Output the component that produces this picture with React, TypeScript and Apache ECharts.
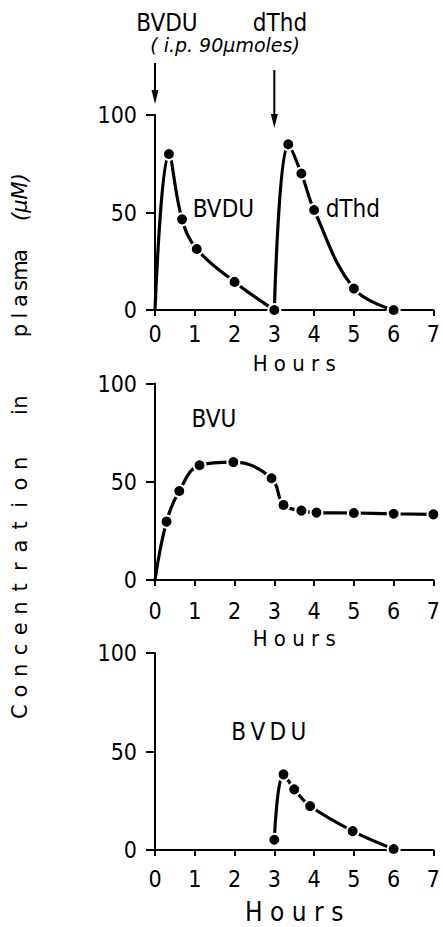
import React, { useEffect, useRef } from "react";
import * as echarts from "echarts";

// Sampling times (hours) and plasma concentrations (µM)
const hourTicks = [0, 1, 2, 3, 4, 5, 6, 7];
const concTicks = [0, 50, 100];

// Panel 1: BVDU injected at 0 h, dThd injected at 3 h
const bvduTimes = [0, 0.35, 0.68, 1.05, 2, 3];
const bvduConc = [0, 80, 46.5, 31.3, 14.4, 0];
const dthdTimes = [3, 3.35, 3.68, 4, 5, 6];
const dthdConc = [0, 85, 70, 51.3, 11, 0];

// Panel 2: BVU
const bvuTimes = [0, 0.29, 0.61, 1.12, 1.97, 2.93, 3.23, 3.68, 4.06, 5, 6, 7];
const bvuConc = [0, 29.7, 45.3, 58.4, 60, 51.8, 38.2, 35.3, 34.3, 34.1, 33.7, 33.4];

// Panel 3: BVDU after dThd
const bvdu2Times = [3, 3.23, 3.5, 3.9, 4.97, 6];
const bvdu2Conc = [5.2, 38.4, 30.8, 22.3, 9.6, 0.5];

const FONT = "'DejaVu Sans Condensed', 'DejaVu Sans', sans-serif";

// curve points; when the curve starts from an unmeasured origin, that point gets no dot
function curve(times: number[], conc: number[], originUnmarked: boolean) {
  return times.map((t, i) =>
    i === 0 && originUnmarked ? { value: [t, conc[i]], symbol: "none" } : { value: [t, conc[i]] }
  );
}

function lineSeries(grid: number, data: any[]) {
  return {
    type: "line",
    xAxisIndex: grid,
    yAxisIndex: grid,
    data,
    smooth: 0.4,
    symbol: "circle",
    symbolSize: 12,
    showAllSymbol: true,
    itemStyle: { color: "#000", borderColor: "#fff", borderWidth: 2 },
    lineStyle: { color: "#000", width: 3.2 },
    emphasis: { disabled: true },
    silent: true,
    z: 3,
  };
}

const grids = [
  { left: 155, top: 115, width: 281, height: 195 },
  { left: 155, top: 383.5, width: 281, height: 196.5 },
  { left: 155, top: 653, width: 281, height: 197 },
];
const labelMargins = [12, 19, 17];
const nameGaps = [42, 47, 49];
const nameSizes = [22, 22, 26];

function xAxis(i: number) {
  return {
    type: "value",
    gridIndex: i,
    min: hourTicks[0],
    max: hourTicks[hourTicks.length - 1],
    interval: 1,
    axisLine: { show: true, onZero: false, lineStyle: { color: "#000", width: 2 } },
    axisTick: { show: true, inside: false, length: 6, lineStyle: { color: "#000", width: 2 } },
    axisLabel: { color: "#000", fontSize: 23, fontFamily: FONT, margin: labelMargins[i] },
    splitLine: { show: false },
    name: "H o u r s",
    nameLocation: "middle",
    nameGap: nameGaps[i],
    nameTextStyle: { color: "#000", fontSize: nameSizes[i], fontFamily: FONT, verticalAlign: "top" },
  };
}

function yAxis(i: number) {
  return {
    type: "value",
    gridIndex: i,
    min: concTicks[0],
    max: concTicks[concTicks.length - 1],
    interval: 50,
    axisLine: { show: true, lineStyle: { color: "#000", width: 2 } },
    axisTick: { show: true, inside: false, length: 9, lineStyle: { color: "#000", width: 2 } },
    axisLabel: { color: "#000", fontSize: 23, fontFamily: FONT, margin: 18 },
    splitLine: { show: false },
  };
}

function txt(x: number, y: number, text: string, font: string, align = "center", rotation = 0) {
  return {
    type: "text",
    x,
    y,
    rotation,
    silent: true,
    z: 10,
    style: {
      text,
      font,
      fill: "#000",
      textAlign: align,
      textVerticalAlign: "middle",
      align,
      verticalAlign: "middle",
    },
  };
}

// spread the letters of a rotated word evenly between two heights
function spacedWord(word: string, x: number, yBottom: number, yTop: number, font: string) {
  const n = word.length;
  const pitch = (yBottom - yTop) / n;
  return word.split("").map((ch, i) => txt(x, yBottom - (i + 0.5) * pitch, ch, font, "center", Math.PI / 2));
}

export default function App() {
  const ref = useRef<HTMLDivElement>(null);

  useEffect(() => {
    document.body.style.margin = "0";
    const chart = echarts.init(ref.current!, null, { renderer: "svg" });
    chart.setOption({
      animation: false,
      backgroundColor: "#fff",
      grid: grids,
      xAxis: [xAxis(0), xAxis(1), xAxis(2)],
      yAxis: [yAxis(0), yAxis(1), yAxis(2)],
      series: [
        lineSeries(0, curve(bvduTimes, bvduConc, true)),
        lineSeries(0, curve(dthdTimes, dthdConc, true)),
        lineSeries(1, curve(bvuTimes, bvuConc, true)),
        lineSeries(2, curve(bvdu2Times, bvdu2Conc, false)),
      ],
    });

    const px = (g: number, x: number, y: number) => chart.convertToPixel({ gridIndex: g }, [x, y]) as number[];
    const big = `24px ${FONT}`;
    const yLabelFont = `21px 'DejaVu Sans', sans-serif`;

    const a0 = px(0, bvduTimes[0], 100);
    const a1 = px(0, dthdTimes[0], 100);
    const arrow = (x: number, y0: number, y1: number) => [
      { type: "line", silent: true, shape: { x1: x, y1: y0, x2: x, y2: y1 - 8 }, style: { stroke: "#000", lineWidth: 2 } },
      {
        type: "polygon",
        silent: true,
        shape: { points: [[x - 3.5, y1 - 14], [x + 3.5, y1 - 14], [x, y1]] },
        style: { fill: "#000" },
      },
    ];

    const lbl1 = px(0, 0.95, 52);
    const lbl2 = px(0, 4.29, 52);
    const lbl3 = px(1, 0.92, 82);
    const lbl4 = px(2, 1.92, 60);

    chart.setOption({
      graphic: [
        txt(167, 23, "BVDU", big),
        txt(280, 23, "dThd", big),
        txt(225, 45, "( i.p. 90µmoles)", `italic 19px 'DejaVu Sans', sans-serif`),
        ...arrow(a0[0], 63, a0[1] - 11),
        ...arrow(a1[0], 70, a1[1] + 13),
        txt(lbl1[0], lbl1[1], "BVDU", big, "left"),
        txt(lbl2[0], lbl2[1], "dThd", big, "left"),
        txt(lbl3[0], lbl3[1], "BVU", big, "left"),
        txt(lbl4[0], lbl4[1], "B\u2009V\u2009D\u2009U", big, "left"),
        ...spacedWord("Concentration", 20, 722, 453, yLabelFont),
        ...spacedWord("in", 20, 417, 397, yLabelFont),
        ...spacedWord("plasma", 20, 338, 248, yLabelFont),
        txt(20, 197, "(µM)", `italic 21px 'DejaVu Sans', sans-serif`, "center", Math.PI / 2),
      ],
    });

    return () => chart.dispose();
  }, []);

  return <div ref={ref} style={{ width: 443, height: 927 }} />;
}
